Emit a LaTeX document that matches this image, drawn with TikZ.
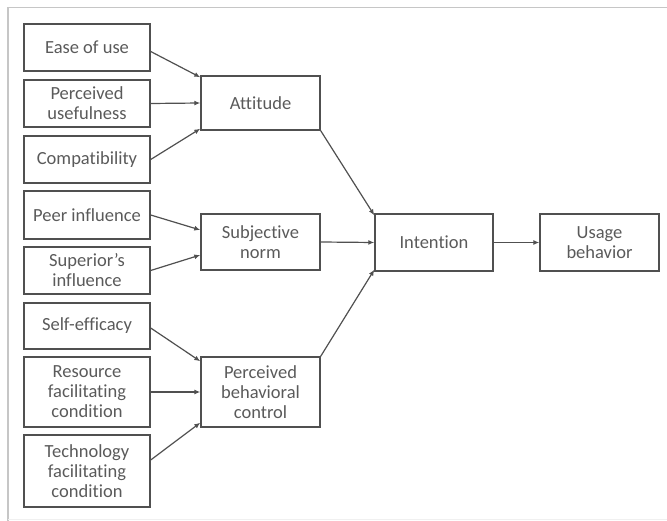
\documentclass[tikz,border=0pt]{standalone}
\usepackage{fontspec}
\setmainfont{Carlito}[RawFeature={-liga;-dlig;-clig}]
\usetikzlibrary{arrows.meta}
\definecolor{boxline}{HTML}{505050}
\definecolor{boxtext}{HTML}{5A5A5A}

\begin{document}
\begin{tikzpicture}[x=1pt,y=-1pt,
        box/.style={draw=boxline, line width=1.4pt, text=boxtext, align=center, inner sep=0pt,
            minimum width=126pt, font=\fontsize{18.5}{20}\selectfont},
        mid/.style={box, minimum width=119pt},
        link/.style={boxline, line width=1.2pt, -{Latex[length=6pt,width=5pt]}}]
        \useasboundingbox (0,0) rectangle (667,521);
        % outer frame
        \draw[gray!45, line width=1.2pt] (667,7.5) -- (8,7.5) -- (8,521);
        \draw[gray!12, line width=1pt] (8,519.5) -- (667,519.5);
        % inputs
        \node[box, minimum height=47pt] (ease) at (87,47.5) {Ease of use};
        \node[box, minimum height=47pt] (useful) at (87,103.5) {Perceived\\usefulness};
        \node[box, minimum height=47pt] (compat) at (87,159.5) {Compatibility};
        \node[box, minimum height=48pt] (peer) at (87,215) {Peer influence};
        \node[box, minimum height=47pt] (superior) at (87,270.5) {Superior's\\influence};
        \node[box, minimum height=46pt] (selfeff) at (87,326) {Self-efficacy};
        \node[box, minimum height=70pt] (resource) at (87,392) {Resource\\facilitating\\condition};
        \node[box, minimum height=72pt] (tech) at (87,471) {Technology\\facilitating\\condition};
        % middle layer
        \node[mid, minimum height=54pt] (attitude) at (260.5,103) {Attitude};
        \node[mid, minimum height=56pt] (subjnorm) at (260.5,242) {Subjective\\norm};
        \node[mid, minimum height=70pt] (pbc) at (260.5,392) {Perceived\\behavioral\\control};
        % outcome
        \node[box, minimum width=118pt, minimum height=57pt] (intention) at (434,242.5) {Intention};
        \node[mid, minimum height=57pt] (usage) at (599.5,242.5) {Usage\\behavior};
        % arrows
        \draw[link] ([yshift=-4pt]ease.east) -- ([yshift=-2pt]attitude.north west);
        \draw[link] (useful.east) -- (attitude.west);
        \draw[link] (compat.east) -- ([yshift=2pt]attitude.south west);
        \draw[link] (peer.east) -- ([yshift=12pt]subjnorm.west);
        \draw[link] (superior.east) -- ([yshift=-13pt]subjnorm.west);
        \draw[link] ([yshift=-2pt]selfeff.east) -- ([yshift=-5pt]pbc.north west);
        \draw[link] (resource.east) -- (pbc.west);
        \draw[link] ([yshift=11pt]tech.east) -- ([yshift=5pt]pbc.south west);
        \draw[link] (attitude.south east) -- ([yshift=-2pt]intention.north west);
        \draw[link] (subjnorm.east) -- (intention.west);
        \draw[link] (pbc.north east) -- ([yshift=2pt]intention.south west);
        \draw[link] (intention.east) -- (usage.west);
    \end{tikzpicture}
\end{document}
